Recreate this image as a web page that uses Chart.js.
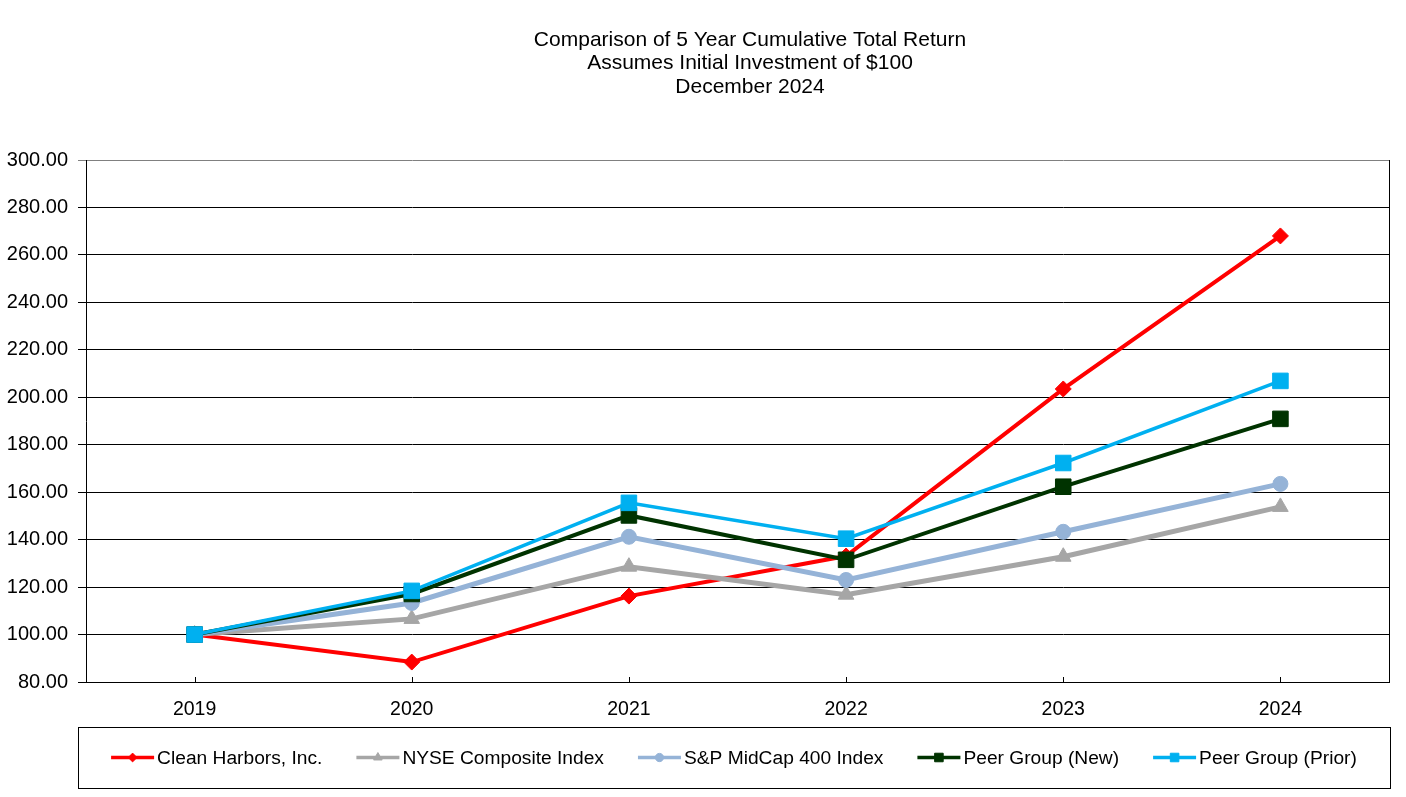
<!DOCTYPE html>
<html>
<head>
<meta charset="utf-8">
<script src="https://cdn.jsdelivr.net/npm/chart.js@4/dist/chart.umd.min.js"></script>
<style>
  body { margin: 0; background: #fff; }
  canvas { display: block; }
</style>
</head>
<body>
<canvas id="returns" width="1406" height="797"></canvas>
<script>
const years = ['2019', '2020', '2021', '2022', '2023', '2024'];
const cleanHarbors = [100, 88.4, 116.2, 133.1, 203.5, 268.0];
const nyseComposite = [100, 106.6, 128.6, 116.8, 132.8, 153.8];
const spMidCap400 = [100, 113.3, 141.2, 123.0, 143.3, 163.5];
const peerGroupNew = [100, 117.1, 150.2, 131.5, 162.3, 190.9];
const peerGroupPrior = [100, 118.4, 155.5, 140.4, 172.3, 206.9];
const yTicks = { min: 80, max: 300, step: 20 };
const titleLines = ['Comparison of 5 Year Cumulative Total Return', 'Assumes Initial Investment of $100', 'December 2024'];

const FONT = 'Arial, "Liberation Sans", sans-serif';

// title, inward x ticks, right border and the framed legend
const decorPlugin = {
    id: 'decor',
    afterDraw(chart) {
        const ctx = chart.ctx;
        const area = chart.chartArea;
        const xScale = chart.scales.x;
        ctx.save();

        ctx.strokeStyle = '#000';
        ctx.lineWidth = 1;
        ctx.beginPath();
        ctx.moveTo(area.right + 0.5, area.top);
        ctx.lineTo(area.right + 0.5, area.bottom);
        xScale.ticks.forEach((t, i) => {
            const px = Math.round(xScale.getPixelForTick(i)) + 0.5;
            ctx.moveTo(px, area.bottom);
            ctx.lineTo(px, area.bottom - 5);
        });
        ctx.stroke();

        ctx.fillStyle = '#000';
        ctx.font = '21px ' + FONT;
        ctx.textAlign = 'center';
        ctx.textBaseline = 'middle';
        titleLines.forEach((line, i) => ctx.fillText(line, 750, 40 + i * 23.5));

        // legend box
        const box = { left: 78, top: 727, right: 1390, bottom: 788 };
        ctx.strokeRect(box.left + 0.5, box.top + 0.5, box.right - box.left, box.bottom - box.top);

        ctx.font = '19.2px ' + FONT;
        const lineLen = 43, textGap = 3, itemGap = 34;
        const items = chart.data.datasets.map(ds => ({ ds: ds, w: ctx.measureText(ds.label).width }));
        const total = items.reduce((s, it) => s + lineLen + textGap + it.w, 0) + itemGap * (items.length - 1);
        let x = (box.left + box.right) / 2 - total / 2;
        const y = (box.top + box.bottom) / 2;
        ctx.textAlign = 'left';
        items.forEach(it => {
            const ds = it.ds;
            ctx.strokeStyle = ds.borderColor;
            ctx.lineWidth = 3.5;
            ctx.beginPath();
            ctx.moveTo(x, y);
            ctx.lineTo(x + lineLen, y);
            ctx.stroke();
            ctx.fillStyle = ds.borderColor;
            ctx.lineWidth = 1;
            Chart.helpers.drawPoint(ctx, {
                pointStyle: ds.pointStyle,
                radius: ds.pointRadius * 0.55,
                rotation: 0,
                borderWidth: 1
            }, x + lineLen / 2, y);
            ctx.fillStyle = '#000';
            ctx.fillText(ds.label, x + lineLen + textGap, y + 1);
            x += lineLen + textGap + it.w + itemGap;
        });
        ctx.restore();
    }
};

function series(label, data, color, width, style, radius, order) {
    return {
        label: label,
        data: data,
        borderColor: color,
        backgroundColor: color,
        borderWidth: width,
        pointStyle: style,
        pointRadius: radius,
        pointHoverRadius: radius,
        pointBackgroundColor: color,
        pointBorderColor: color,
        pointBorderWidth: 1,
        tension: 0,
        fill: false,
        order: order
    };
}

const chart = new Chart(document.getElementById('returns'), {
    type: 'line',
    data: {
        labels: years,
        datasets: [
            series('Clean Harbors, Inc.', cleanHarbors, '#FF0000', 4, 'rectRot', 8, 5),
            series('NYSE Composite Index', nyseComposite, '#A6A6A6', 5, 'triangle', 9, 4),
            series('S&P MidCap 400 Index', spMidCap400, '#95B3D7', 5, 'circle', 7.5, 3),
            series('Peer Group (New)', peerGroupNew, '#003300', 4, 'rect', 11, 2),
            series('Peer Group (Prior)', peerGroupPrior, '#00B0F0', 3.5, 'rect', 11, 1)
        ]
    },
    options: {
        responsive: false,
        animation: false,
        devicePixelRatio: 1,
        layout: { padding: { left: 0, right: 17, top: 160, bottom: 0 } },
        scales: {
            x: {
                offset: true,
                afterFit: (scale) => { scale.height = 115; },
                grid: { display: false },
                border: { display: true, color: '#000', width: 1 },
                ticks: {
                    color: '#000',
                    padding: 8,
                    maxRotation: 0,
                    font: { family: FONT, size: 19.5 }
                }
            },
            y: {
                min: yTicks.min,
                max: yTicks.max,
                afterFit: (scale) => { scale.width = 86; },
                grid: {
                    color: (c) => (c.tick && c.tick.value === yTicks.max ? '#808080' : '#000'),
                    lineWidth: 1,
                    drawTicks: true,
                    tickLength: 8
                },
                border: { display: true, color: '#000', width: 1 },
                ticks: {
                    stepSize: yTicks.step,
                    color: '#000',
                    padding: 10,
                    font: { family: FONT, size: 20 },
                    callback: (v) => v.toFixed(2)
                }
            }
        },
        plugins: {
            legend: { display: false },
            title: { display: false },
            tooltip: { enabled: false }
        }
    },
    plugins: [decorPlugin]
});
</script>
</body>
</html>
